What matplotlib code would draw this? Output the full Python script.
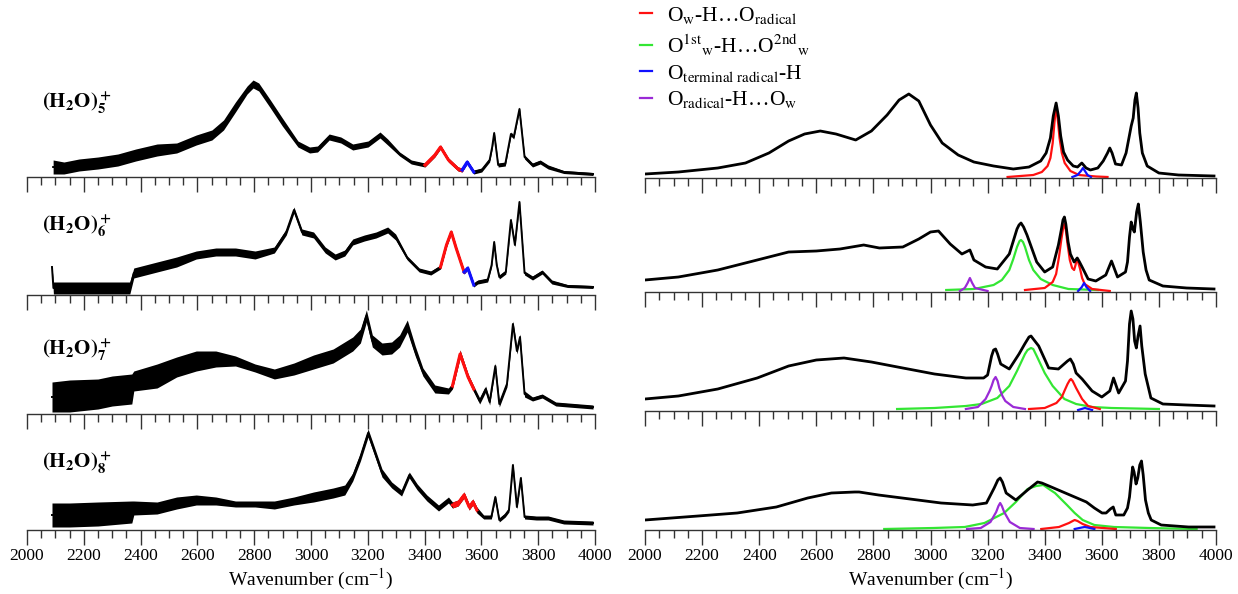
import numpy as np
import matplotlib
matplotlib.use("Agg")
import matplotlib.pyplot as plt
from matplotlib.ticker import MultipleLocator
from matplotlib.lines import Line2D

plt.rcParams['font.family'] = ['Liberation Serif', 'DejaVu Serif']
plt.rcParams['mathtext.fontset'] = 'stix'

# ---------------- data: experimental spectra (left column) ----------------
# wavenumber (cm-1), mean intensity (a.u.), noise half-width (a.u.)
exp5_wn = [2092, 2130, 2183, 2250, 2320, 2383, 2458, 2527, 2596, 2651, 2692, 2734, 2775, 2796, 2816,
           2857, 2899, 2954, 2995, 3023, 3064, 3105, 3147, 3201, 3243, 3270, 3312, 3353, 3401, 3436,
           3456, 3484, 3518, 3532, 3550, 3573, 3601, 3629, 3638, 3645, 3652, 3659, 3684, 3704, 3714,
           3734, 3752, 3780, 3807, 3835, 3890, 3993]
exp5_y = [10, 9, 12, 14, 17, 22, 27, 29, 37, 42, 52, 70, 87, 93, 90,
          73, 55, 33, 27, 28, 40, 37, 30, 33, 42, 35, 23, 15, 12, 22,
          30, 17, 8, 7, 15, 5, 7, 17, 30, 44, 28, 12, 13, 43, 40,
          68, 20, 12, 15, 10, 5, 3]
exp5_noise = [7, 6, 6, 6, 6, 6, 6, 5, 5, 5, 5, 5, 4, 4, 4,
              4, 4, 3, 3, 3, 3, 3, 3, 3, 3, 3, 2, 2, 2, 2,
              2, 2, 2, 2, 2, 2, 2, 2, 2, 2, 2, 2, 2, 2, 2,
              2, 2, 2, 2, 2, 1.5, 1.5]

exp6_wn = [2088, 2093, 2150, 2250, 2362, 2376, 2458, 2527, 2596, 2665, 2734, 2803, 2871, 2913, 2940,
           2968, 3009, 3050, 3085, 3119, 3147, 3188, 3229, 3270, 3298, 3339, 3381, 3422, 3456, 3477,
           3494, 3511, 3539, 3552, 3573, 3587, 3622, 3636, 3645, 3654, 3663, 3686, 3704, 3718, 3734,
           3752, 3780, 3814, 3848, 3903, 3993]
exp6_y = [28, 7, 7, 7, 7, 22, 28, 33, 40, 43, 43, 40, 45, 63, 85,
          63, 60, 45, 38, 42, 53, 57, 60, 65, 58, 37, 25, 22, 28, 50,
          63, 47, 23, 27, 10, 13, 15, 30, 53, 30, 18, 23, 75, 50, 93,
          22, 17, 23, 13, 9, 8]
exp6_noise = [0, 6, 6, 6, 6, 5, 5, 5, 4, 4, 4, 4, 3, 3, 3,
              3, 3, 3, 3, 3, 3, 3, 3, 3, 3, 2, 2, 2, 2, 2,
              2, 2, 2, 2, 2, 2, 2, 2, 2, 2, 2, 2, 2, 2, 2,
              2, 2, 2, 2, 1.5, 1.5]

exp7_wn = [2088, 2150, 2250, 2300, 2369, 2376, 2458, 2527, 2596, 2665, 2734, 2803, 2871, 2940, 3009,
           3078, 3147, 3174, 3195, 3216, 3250, 3284, 3312, 3339, 3367, 3394, 3436, 3484, 3498, 3525,
           3553, 3573, 3594, 3615, 3629, 3649, 3663, 3690, 3711, 3725, 3736, 3752, 3780, 3814, 3862,
           3993]
exp7_y = [17, 18, 20, 23, 25, 33, 38, 47, 53, 55, 53, 46, 40, 45, 52,
          58, 70, 78, 98, 73, 65, 66, 73, 88, 63, 42, 25, 23, 28, 60,
          37, 25, 13, 25, 12, 48, 10, 30, 90, 63, 77, 20, 15, 18, 10,
          7]
exp7_noise = [15, 16, 15, 15, 15, 10, 12, 10, 10, 8, 5, 4, 5, 6, 7,
              7, 7, 7, 6, 6, 6, 6, 6, 6, 5, 4, 4, 3, 3, 4,
              3, 3, 3, 3, 3, 3, 3, 3, 3, 3, 3, 3, 2, 2, 2,
              2]

exp8_wn = [2088, 2150, 2250, 2369, 2376, 2458, 2527, 2596, 2665, 2734, 2803, 2871, 2940, 3009, 3078,
           3119, 3147, 3174, 3201, 3222, 3250, 3284, 3319, 3346, 3374, 3408, 3449, 3484, 3498, 3518,
           3539, 3557, 3570, 3584, 3608, 3635, 3649, 3663, 3684, 3697, 3711, 3725, 3739, 3752, 3793,
           3835, 3890, 3993]
exp8_y = [15, 15, 16, 18, 22, 22, 27, 30, 29, 26, 26, 25, 29, 33, 37,
          40, 53, 73, 97, 80, 57, 45, 37, 55, 43, 32, 22, 30, 25, 27,
          35, 23, 28, 20, 13, 13, 33, 10, 15, 20, 65, 23, 52, 13, 12,
          12, 8, 7]
exp8_noise = [12, 12, 12, 11, 7, 6, 6, 5, 4, 3, 3, 4, 4, 5, 5,
              5, 4, 4, 4, 4, 4, 3, 3, 3, 3, 3, 3, 3, 3, 3,
              3, 3, 3, 3, 2, 2, 2, 2, 2, 2, 2, 2, 2, 2, 2,
              2, 2, 2]

# highlighted wavenumber ranges on the experimental traces
exp_red_ranges = [(3401, 3532), (3456, 3539), (3498, 3573), (3498, 3584)]
exp_blue_ranges = [(3532, 3573), (3539, 3573), None, None]

# ---------------- data: computed spectra (right column) ----------------
calc5_wn = [2000, 2117, 2255, 2352, 2434, 2503, 2559, 2614, 2669, 2738, 2793, 2848, 2890, 2924, 2959,
            3000, 3041, 3097, 3152, 3221, 3290, 3345, 3386, 3405, 3420, 3430, 3440, 3448, 3456, 3466,
            3480, 3500, 3515, 3530, 3545, 3560, 3586, 3605, 3620, 3628, 3636, 3648, 3669, 3685, 3695,
            3703, 3710, 3716, 3721, 3727, 3733, 3742, 3759, 3800, 3869, 3993]
calc5_y = [4, 6, 10, 15, 25, 37, 44, 47, 44, 38, 47, 63, 78, 84, 77,
           53, 35, 23, 16, 12, 9, 11, 17, 25, 40, 62, 75, 62, 42, 26,
           18, 12, 11, 15, 10, 8, 10, 17, 25, 30, 25, 14, 13, 25, 40,
           52, 60, 78, 85, 70, 45, 25, 12, 5, 3, 2]
calc5_red_wn = [3270, 3360, 3390, 3410, 3420, 3428, 3434, 3440, 3446, 3452, 3460, 3470, 3490, 3520, 3580, 3620]
calc5_red_y = [1, 3, 6, 12, 20, 35, 55, 72, 58, 40, 25, 15, 7, 3, 1.5, 1]
calc5_blue_wn = [3497, 3515, 3527, 3534, 3541, 3550, 3562]
calc5_blue_y = [1, 3, 7, 10, 7, 3, 1]

calc6_wn = [2000, 2117, 2255, 2393, 2503, 2600, 2683, 2766, 2821, 2903, 2959, 3000, 3028, 3069, 3110,
            3138, 3152, 3193, 3234, 3276, 3303, 3310, 3317, 3326, 3338, 3372, 3400, 3428, 3448, 3458,
            3464, 3469, 3474, 3482, 3490, 3503, 3514, 3522, 3531, 3552, 3579, 3614, 3634, 3655, 3683,
            3690, 3697, 3703, 3709, 3714, 3722, 3728, 3735, 3745, 3755, 3766, 3814, 3897, 3993]
calc6_y = [12, 15, 22, 32, 40, 41, 43, 47, 44, 45, 53, 60, 61, 48, 38,
           42, 32, 25, 23, 38, 63, 67, 69, 65, 57, 30, 20, 25, 47, 62,
           72, 75, 68, 50, 38, 30, 34, 30, 25, 13, 11, 17, 31, 15, 20,
           30, 55, 70, 63, 60, 80, 88, 70, 40, 22, 12, 6, 4, 3]
calc6_green_wn = [3055, 3152, 3221, 3250, 3276, 3290, 3303, 3312, 3317, 3324, 3331, 3345, 3360, 3386, 3428,
                  3483, 3586]
calc6_green_y = [2, 3, 7, 12, 22, 33, 45, 51, 52, 50, 45, 32, 22, 13, 7, 3, 2]
calc6_purple_wn = [3103, 3120, 3130, 3138, 3146, 3156, 3200]
calc6_purple_y = [1, 4, 9, 14, 9, 4, 1]
calc6_red_wn = [3331, 3400, 3428, 3440, 3450, 3458, 3464, 3469, 3474, 3480, 3488, 3496, 3503, 3508, 3512,
                3517, 3524, 3531, 3540, 3566, 3628]
calc6_red_y = [2, 4, 10, 18, 35, 52, 63, 68, 62, 48, 32, 24, 22, 27, 33, 30, 23, 14, 8, 3, 1]
calc6_blue_wn = [3517, 3530, 3538, 3546, 3559]
calc6_blue_y = [1, 5, 9, 5, 1]

calc7_wn = [2000, 2117, 2255, 2393, 2503, 2600, 2697, 2793, 2903, 3014, 3124, 3186, 3200, 3214, 3221,
            3228, 3235, 3246, 3276, 3310, 3330, 3345, 3352, 3360, 3379, 3414, 3448, 3480, 3490, 3500,
            3510, 3531, 3566, 3600, 3628, 3641, 3659, 3683, 3690, 3697, 3703, 3709, 3715, 3721, 3727,
            3734, 3740, 3752, 3772, 3814, 3897, 3993]
calc7_y = [12, 15, 22, 33, 45, 51, 53, 49, 43, 37, 33, 33, 36, 55, 61,
           62, 57, 47, 42, 57, 67, 74, 75, 72, 65, 43, 42, 50, 52, 47,
           38, 32, 20, 14, 20, 33, 18, 30, 50, 87, 100, 92, 70, 63, 75,
           85, 65, 37, 13, 7, 6, 5]
calc7_green_wn = [2883, 3014, 3124, 3179, 3234, 3276, 3303, 3331, 3340, 3352, 3360, 3372, 3400, 3428, 3469,
                  3510, 3566, 3634, 3800]
calc7_green_y = [2, 3, 5, 7, 13, 25, 40, 57, 61, 63, 62, 55, 38, 25, 12, 7, 4, 3, 2]
calc7_purple_wn = [3124, 3166, 3193, 3207, 3214, 3221, 3228, 3235, 3241, 3252, 3262, 3290, 3331]
calc7_purple_y = [2, 4, 12, 20, 25, 31, 34, 30, 23, 15, 10, 4, 2]
calc7_red_wn = [3345, 3400, 3441, 3460, 3469, 3480, 3488, 3492, 3498, 3510, 3531, 3552, 3593]
calc7_red_y = [2, 3, 8, 14, 20, 27, 31, 32, 30, 23, 12, 5, 2]
calc7_blue_wn = [3517, 3541, 3566]
calc7_blue_y = [1, 3, 1]

calc8_wn = [2000, 2186, 2323, 2460, 2570, 2653, 2735, 2750, 2818, 2928, 3037, 3148, 3196, 3223, 3236,
            3244, 3252, 3265, 3299, 3340, 3375, 3390, 3423, 3464, 3505, 3546, 3574, 3601, 3615, 3630,
            3640, 3649, 3677, 3690, 3697, 3703, 3708, 3713, 3720, 3726, 3733, 3739, 3745, 3753, 3763,
            3773, 3808, 3904, 3993]
calc8_y = [10, 14, 17, 23, 32, 37, 38, 38, 35, 31, 27, 25, 27, 42, 50,
           52, 48, 37, 30, 40, 48, 47, 43, 38, 33, 28, 22, 17, 17, 21,
           23, 15, 15, 22, 33, 50, 63, 58, 46, 52, 65, 69, 55, 30, 17,
           10, 5, 3, 3]
calc8_green_wn = [2838, 3010, 3120, 3189, 3258, 3299, 3340, 3370, 3395, 3420, 3436, 3450, 3478, 3505, 3533,
                  3574, 3643, 3767, 3932]
calc8_green_y = [1, 2, 3, 7, 17, 28, 41, 44, 45, 40, 37, 33, 25, 17, 10, 5, 3, 2, 1]
calc8_purple_wn = [3128, 3176, 3210, 3230, 3238, 3244, 3250, 3258, 3278, 3313, 3361]
calc8_purple_y = [1, 2, 8, 18, 24, 27, 24, 18, 8, 2, 1]
calc8_red_wn = [3388, 3450, 3485, 3498, 3505, 3515, 3533, 3560, 3649]
calc8_red_y = [1, 3, 7, 9, 10, 9, 6, 3, 1]
calc8_blue_wn = [3505, 3530, 3540, 3550, 3574]
calc8_blue_y = [1, 2.5, 3, 2.5, 1]

row_labels = [r"$\mathbf{(H_2O)_5^+}$", r"$\mathbf{(H_2O)_6^+}$",
              r"$\mathbf{(H_2O)_7^+}$", r"$\mathbf{(H_2O)_8^+}$"]
legend_labels = [r"O$_\mathrm{w}$-H…O$_\mathrm{radical}$",
                 r"O$^\mathrm{1st}{}_\mathrm{w}$-H…O$^\mathrm{2nd}{}_\mathrm{w}$",
                 r"O$_\mathrm{terminal\ radical}$-H",
                 r"O$_\mathrm{radical}$-H…O$_\mathrm{w}$"]
xticks = list(range(2000, 4001, 200))
xlabel = r"Wavenumber (cm$^{-1}$)"

RED, GREEN, BLUE, PURPLE = '#ff1010', '#33e633', '#1010ff', '#9a2ad6'

# ---------------- layout ----------------
W, H = 1238, 594
fig = plt.figure(figsize=(W / 100, H / 100), dpi=100)

left_x = (27, 595)
right_x = (645, 1216)
left_base = [177, 295, 414, 530]
right_base = [178, 292, 411, 530]
label_y = [103, 226, 350, 463]
AX_H = 110


def make_ax(xr, base, bottom_row):
    ax = fig.add_axes([xr[0] / W, (H - base) / H, (xr[1] - xr[0]) / W, AX_H / H])
    ax.set_xlim(2000, 4000)
    ax.set_ylim(0, AX_H)
    for s in ('top', 'left', 'right'):
        ax.spines[s].set_visible(False)
    ax.spines['bottom'].set_color('#333333')
    ax.spines['bottom'].set_linewidth(1.0)
    ax.set_yticks([])
    ax.set_xticks(xticks)
    ax.xaxis.set_minor_locator(MultipleLocator(50))
    ax.tick_params(axis='x', which='major', direction='out', length=11, width=1.0,
                   color='#333333', labelsize=12.5, pad=2, labelbottom=bottom_row)
    ax.tick_params(axis='x', which='minor', direction='out', length=5.5, width=1.0,
                   color='#333333')
    ax.patch.set_alpha(0)
    if bottom_row:
        lab = ax.set_xlabel(xlabel, fontsize=14)
        ax.xaxis.set_label_coords(0.5, -(579 - base) / AX_H)
        lab.set_va('center')
    return ax


exp_data = [(exp5_wn, exp5_y, exp5_noise), (exp6_wn, exp6_y, exp6_noise),
            (exp7_wn, exp7_y, exp7_noise), (exp8_wn, exp8_y, exp8_noise)]
calc_data = [
    (calc5_wn, calc5_y, [(calc5_red_wn, calc5_red_y, RED), (calc5_blue_wn, calc5_blue_y, BLUE)]),
    (calc6_wn, calc6_y, [(calc6_green_wn, calc6_green_y, GREEN), (calc6_purple_wn, calc6_purple_y, PURPLE),
                         (calc6_red_wn, calc6_red_y, RED), (calc6_blue_wn, calc6_blue_y, BLUE)]),
    (calc7_wn, calc7_y, [(calc7_green_wn, calc7_green_y, GREEN), (calc7_purple_wn, calc7_purple_y, PURPLE),
                         (calc7_red_wn, calc7_red_y, RED), (calc7_blue_wn, calc7_blue_y, BLUE)]),
    (calc8_wn, calc8_y, [(calc8_green_wn, calc8_green_y, GREEN), (calc8_purple_wn, calc8_purple_y, PURPLE),
                         (calc8_red_wn, calc8_red_y, RED), (calc8_blue_wn, calc8_blue_y, BLUE)]),
]

for i in range(4):
    bottom = (i == 3)
    # experimental
    ax = make_ax(left_x, left_base[i], bottom)
    wn, y, nz = (np.asarray(a, float) for a in exp_data[i])
    ax.fill_between(wn, y - nz, y + nz, color='black', lw=0)
    ax.plot(wn, y, color='black', lw=1.4)
    for rng, col in ((exp_red_ranges[i], RED), (exp_blue_ranges[i], BLUE)):
        if rng is None:
            continue
        m = (wn >= rng[0]) & (wn <= rng[1])
        ax.fill_between(wn[m], y[m] - nz[m], y[m] + nz[m], color=col, lw=0)
        ax.plot(wn[m], y[m], color=col, lw=2.2)
    fig.text(42 / W, 1 - label_y[i] / H, row_labels[i], fontsize=15,
             ha='left', va='center')

    # computed
    ax2 = make_ax(right_x, right_base[i], bottom)
    cwn, cy, comps = calc_data[i]
    ax2.plot(cwn, cy, color='black', lw=2.0, zorder=3)
    for cw, cyv, col in comps:
        ax2.plot(cw, cyv, color=col, lw=1.6, zorder=2)

handles = [Line2D([], [], color=c, lw=1.6) for c in (RED, GREEN, BLUE, PURPLE)]
fig.legend(handles, legend_labels, loc='upper left', bbox_to_anchor=(640 / W, 1 - 5 / H),
           frameon=False, fontsize=15.5, handlelength=0.55, handletextpad=0.7,
           labelspacing=0.25, borderpad=0, borderaxespad=0)

fig.savefig('out.png', dpi=100)
